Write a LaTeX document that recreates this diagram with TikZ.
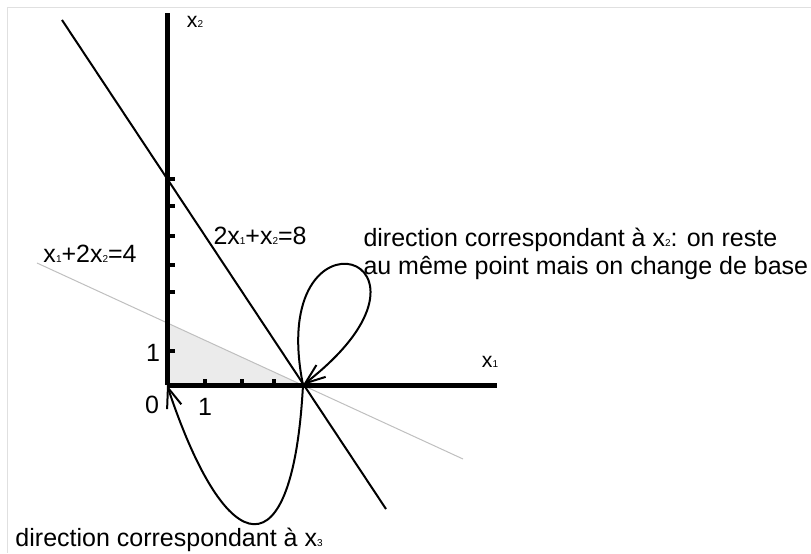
\documentclass[tikz,border=0pt]{standalone}
\usepackage{fontspec}
\setmainfont{Liberation Sans}
\usepackage{tikz}
\usetikzlibrary{arrows.meta}
\newcommand\ind[1]{{\fontsize{4}{4}\selectfont #1}}

\begin{document}
\begin{tikzpicture}[x=0.4pt,y=0.4pt,
  font=\fontsize{10}{11.2}\selectfont,
  axis/.style={line width=2pt},
  tickmark/.style={line width=1.6pt},
  lim/.style={line width=0.8pt},
  limgrey/.style={line width=0.4pt,black!25},
  dir/.style={line width=0.8pt,-{Straight Barb[length=8pt,width=6pt]}},
  lab/.style={inner sep=0pt,anchor=base west},
  axlab/.style={inner sep=0pt,font=\fontsize{8.5}{10}\selectfont}]
\useasboundingbox (-167,-168) rectangle (644,385);
\draw[black!12,line width=0.4pt] (-159,-168) -- (-159,377) -- (644,377);
\coordinate (O) at (0,0);
\coordinate (V) at (136,0);
\coordinate (B) at (0,62);
% feasible region
\fill[black!8] (O) -- (B) -- (V) -- cycle;
% constraints
\coordinate (a1) at (-105,365); \coordinate (a2) at (219,-124);
\coordinate (b1) at (-130,122); \coordinate (b2) at (296,-74);
\draw[limgrey] (b1) -- (b2);
\draw[lim] (a1) -- (a2);
% axes
\coordinate (xend) at (330,0); \coordinate (yend) at (0,372);
\draw[axis] (O) -- (xend);
\draw[axis] (O) -- (yend);
\foreach \t in {34,93,120,149,179,206}{\draw[tickmark] (0,\t) -- ++(8,0);}
\foreach \t in {38,75,107}{\draw[tickmark] (\t,0) -- ++(0,6);}
\node[axlab] (x2) at (28,363) {x\ind{2}};
\node[axlab] (x1) at (323,23) {x\ind{1}};
\node[inner sep=0pt,anchor=base] (one) at (-14,24) {1};
\node[inner sep=0pt,anchor=base] (zero) at (-15,-28) {0};
\node[inner sep=0pt,anchor=base] (onex) at (38,-30) {1};
\node[lab] (c2) at (-124,122) {x\ind{1}+2x\ind{2}=4};
\node[lab] (c1) at (46,141) {2x\ind{1}+x\ind{2}=8};
% directions
\draw[dir] (V) .. controls (98,190) and (303,130) .. (V);
\draw[dir] (V) .. controls (126,-190) and (60,-180) .. (O);
\node[lab,align=left] (dx2) at (196,110)
  {direction correspondant à x\ind{2}: on reste\\au même point mais on change de base};
\node[lab] (dx3) at (-152,-161) {direction correspondant à x\ind{3}};
\end{tikzpicture}
\end{document}
